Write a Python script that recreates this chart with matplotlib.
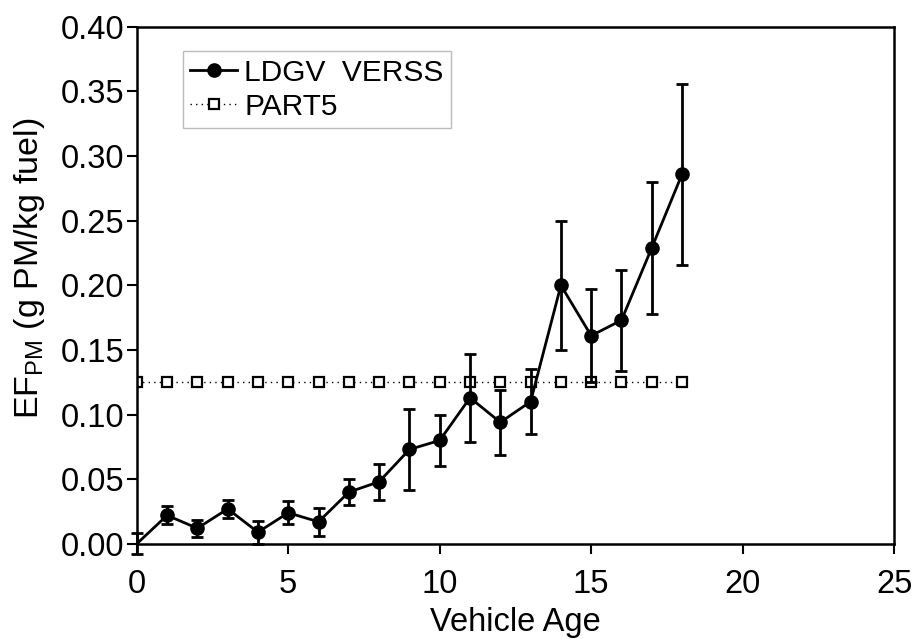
import matplotlib
matplotlib.use("Agg")
import matplotlib.pyplot as plt

# LDGV VERSS emission factors by vehicle age
age = [0, 1, 2, 3, 4, 5, 6, 7, 8, 9, 10, 11, 12, 13, 14, 15, 16, 17, 18]
ef_pm = [0.0, 0.022, 0.012, 0.027, 0.009, 0.024, 0.017, 0.040, 0.048, 0.073,
         0.080, 0.113, 0.094, 0.110, 0.200, 0.161, 0.173, 0.229, 0.286]
ef_err = [0.008, 0.007, 0.0065, 0.007, 0.009, 0.009, 0.011, 0.010, 0.014, 0.031,
          0.020, 0.034, 0.025, 0.025, 0.050, 0.036, 0.039, 0.051, 0.070]

# PART5 constant value
part5_age = age
part5_ef = [0.125] * len(age)

FS = 23.5

plt.rcParams["font.family"] = ["Liberation Sans", "DejaVu Sans"]
plt.rcParams["mathtext.fontset"] = "custom"
plt.rcParams["mathtext.rm"] = "Liberation Sans"

fig = plt.figure(figsize=(9.18, 6.39), dpi=100)
ax = fig.add_axes([0.149, 0.149, 0.825, 0.809])

ax.errorbar(age, ef_pm, yerr=ef_err, fmt="none", ecolor="black",
            elinewidth=2, capsize=4, capthick=2, zorder=3, clip_on=False)
ldgv, = ax.plot(age, ef_pm, color="black", lw=2, marker="o", markersize=9.5,
                markevery=list(range(1, len(age))), label="LDGV  VERSS",
                zorder=4, clip_on=False)
part5, = ax.plot(part5_age, part5_ef, color="black", lw=1, ls=(0, (1, 3)),
                 marker="s", markersize=7.5, markerfacecolor="white",
                 markeredgewidth=1.6, label="PART5", zorder=2)

ax.set_xlim(0, 25)
ax.set_ylim(0, 0.40)
ax.set_xticks([0, 5, 10, 15, 20, 25])
ax.set_yticks([0.0, 0.05, 0.10, 0.15, 0.20, 0.25, 0.30, 0.35, 0.40])
ax.set_yticklabels([f"{v:.2f}" for v in ax.get_yticks()])
ax.tick_params(direction="out", length=7, width=1.5, labelsize=FS)
ax.tick_params(axis="y", pad=2)
ax.tick_params(axis="x", pad=11)
for s in ax.spines.values():
    s.set_linewidth(1.8)

ax.set_xlabel("Vehicle Age", fontsize=FS, labelpad=5)
ax.set_ylabel(r"EF$_{\mathrm{PM}}$ (g PM/kg fuel)", fontsize=24.5)
ax.yaxis.set_label_coords(-0.119, 0.533)

leg = ax.legend(handles=[ldgv, part5], loc="upper left",
                bbox_to_anchor=(0.061, 0.953), fontsize=21.5,
                frameon=True, fancybox=False, handlelength=1.55,
                handletextpad=0.25, borderpad=0.25, labelspacing=0.2,
                borderaxespad=0)
leg.get_frame().set_edgecolor("#aaaaaa")
leg.get_frame().set_linewidth(1)

fig.savefig("out.png", dpi=100)
